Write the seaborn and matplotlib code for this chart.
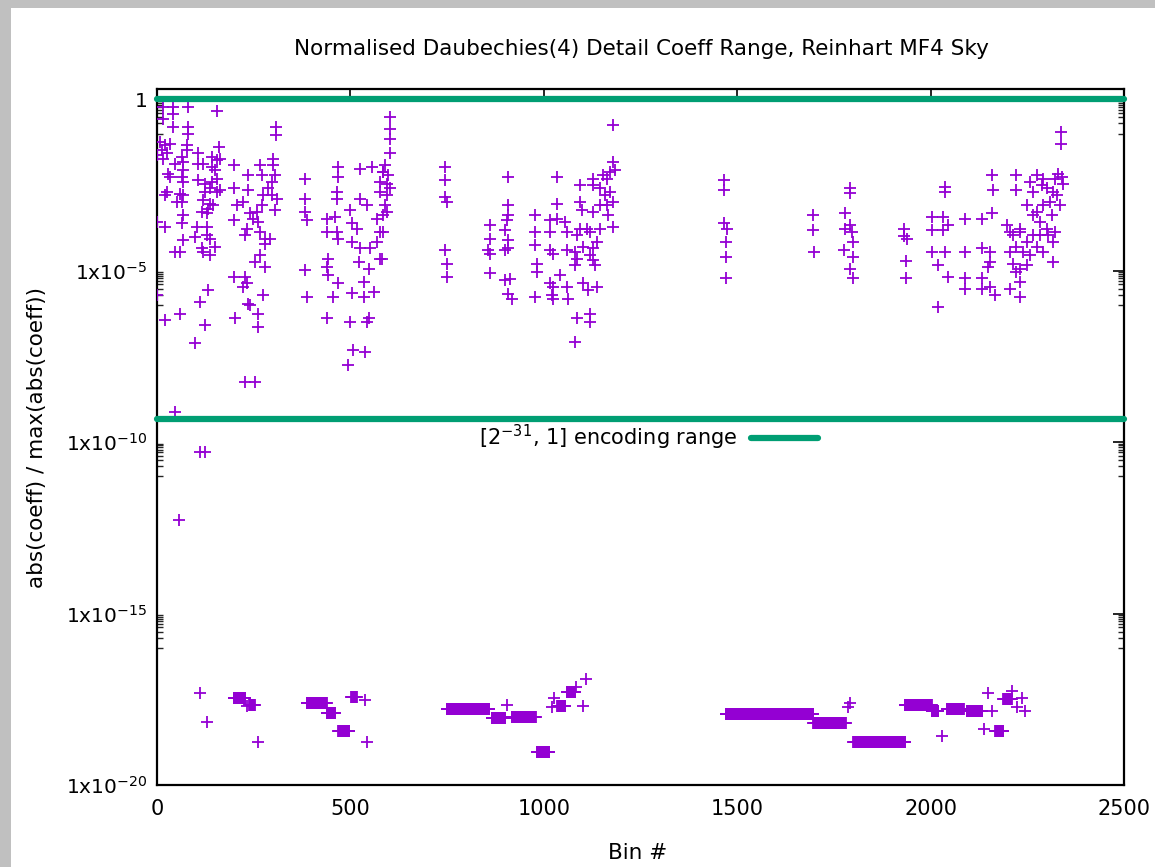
import numpy as np
import pandas as pd
import matplotlib
matplotlib.use("Agg")
import matplotlib.pyplot as plt
from matplotlib.patches import Rectangle
from matplotlib.ticker import FixedLocator, NullFormatter
import seaborn as sns

# ---------------- data (bin number, log10 of normalised |coeff|) ----------------
bins_top = [
    16, 41, 81, 154, 16, 41, 41, 81, 81, 308, 308, 8, 21, 34, 12, 25, 16, 0, 77, 77,
    64, 107, 159, 141, 154, 163, 47, 68, 68, 107, 120, 141, 150, 29, 34, 64, 68, 107, 124, 141,
    154, 25, 21, 60, 68, 124, 137, 154, 163, 51, 64, 120, 137, 133, 146, 68, 116, 129, 0, 21,
    64, 103, 129, 68, 98, 129, 137, 47, 60, 116, 120, 137, 150, 0, 21, 60, 111, 133, 124, 98,
    198, 198, 198, 236, 236, 223, 206, 266, 271, 301, 301, 305, 297, 288, 297, 310, 275, 271, 258, 241,
    249, 262, 232, 228, 266, 279, 292, 279, 266, 254, 279, 305, 198, 228, 232, 223, 275, 236, 241, 262,
    262, 202, 228, 254, 383, 383, 383, 387, 383, 387,
    467, 467, 465, 465, 439, 460, 465, 439, 469, 443, 439, 443, 469, 456, 439, 499, 547, 542,
    525, 555, 585, 577, 594, 577, 542, 525, 499, 504, 516, 504, 525, 551, 568, 577, 568, 585,
    577, 521, 547, 534, 504, 534, 560, 508, 538, 495,
    602, 602, 602, 602, 589, 585, 598, 594, 602, 589, 594, 585, 581, 1180,
    745, 745, 745, 749, 745, 749, 749,
    908, 908, 908, 904, 900, 908, 908, 900, 861, 861, 857, 861, 861, 900, 913, 908, 917,
    977, 977, 977, 982, 982, 977, 1033, 1033, 1033, 1016, 1016, 1055, 1059, 1016, 1025, 1059,
    1042, 1016, 1025, 1059, 1020, 1025, 1063,
    1094, 1094, 1098, 1085, 1094, 1081, 1085, 1081, 1102, 1128, 1145, 1163, 1180, 1184, 1171, 1180,
    1163, 1145, 1128, 1167, 1180, 1145, 1120, 1111, 1137, 1128, 1120, 1128, 1132, 1102, 1115, 1137,
    1085, 1120, 1120, 1081, 1128, 1154, 1171, 1158,
    1466, 1466, 1466, 1473, 1471, 1471, 1471, 1695, 1695, 1698,
    1792, 1792, 1779, 1779, 1792, 1796, 1800, 1776, 1800, 1792, 1800,
    1932, 1932, 1938, 1936, 1936,
    2336, 2336, 2037, 2037, 2160, 2162, 2222, 2222, 2003, 2033, 2003, 2033, 2046, 2089, 2132, 2158,
    2003, 2037, 2020, 2046, 2089, 2089, 2089, 2132, 2132, 2132, 2153, 2166, 2153, 2153, 2149, 2020,
    2205, 2231, 2205, 2214, 2222, 2231, 2197, 2214, 2231, 2222, 2248, 2257, 2274, 2291, 2317, 2317,
    2300, 2283, 2266, 2248, 2266, 2257, 2274, 2291, 2300, 2317, 2321, 2330, 2339, 2343, 2326, 2335,
    2313, 2321, 2304, 2283, 2266, 2240, 2248, 2231, 2274, 2291, 2309, 2287, 2231, 2205,
    46, 111, 124, 58,
]
log_top = [
    -0.22, -0.22, -0.22, -0.35, -0.56, -0.42, -0.81, -0.81, -1.00, -0.81, -1.05, -1.24, -1.34, -1.29, -1.49, -1.58, -1.73, -1.63, -1.34, -1.49,
    -1.68, -1.58, -1.39, -1.68, -1.78, -1.73, -1.88, -1.83, -2.07, -1.88, -1.88, -1.97, -2.07, -2.17, -2.26, -2.26, -2.41, -2.36, -2.46, -2.41,
    -2.31, -2.70, -2.80, -2.75, -2.80, -2.70, -2.60, -2.70, -2.65, -2.99, -2.99, -2.94, -3.04, -3.19, -3.09, -3.38, -3.28, -3.33, -3.58, -3.72,
    -3.62, -3.72, -3.72, -4.11, -4.01, -3.97, -4.06, -4.45, -4.45, -4.35, -4.45, -4.55, -4.31, -5.70, -6.44, -6.25, -5.91, -5.57, -6.59, -7.12,
    -1.92, -2.60, -3.53, -2.22, -2.65, -2.99, -3.09, -1.92, -2.22, -1.73, -1.92, -2.22, -2.41, -2.60, -2.80, -2.90, -2.80, -3.09, -3.28, -3.33,
    -3.48, -3.58, -3.77, -3.97, -3.87, -4.06, -4.06, -4.21, -4.55, -4.74, -4.89, -3.24, -5.18, -5.18, -5.37, -5.47, -5.71, -5.96, -6.01, -6.25,
    -6.64, -6.39, -8.24, -8.24, -2.31, -2.90, -3.28, -3.53, -4.99, -5.76,
    -1.97, -2.26, -2.70, -2.90, -3.48, -3.43, -3.87, -3.87, -4.06, -4.65, -4.89, -5.13, -5.37, -5.76, -6.39, -6.49, -6.39, -6.49,
    -2.02, -1.97, -2.12, -2.41, -2.80, -2.70, -3.09, -2.90, -3.24, -3.62, -3.77, -4.16, -4.35, -4.35, -4.16, -3.87, -3.48, -3.38,
    -4.65, -4.74, -4.94, -5.33, -5.66, -5.76, -5.62, -7.32, -7.37, -7.76,
    -0.52, -0.86, -1.15, -1.58, -1.92, -2.12, -2.22, -2.46, -2.60, -3.09, -3.28, -3.87, -4.65, -0.74,
    -1.97, -2.36, -2.85, -2.99, -4.40, -4.79, -5.18,
    -2.26, -3.09, -3.38, -3.53, -3.82, -4.11, -4.35, -4.40, -3.67, -4.06, -4.40, -4.50, -5.08, -5.28, -5.23, -5.67, -5.81,
    -3.38, -3.87, -4.26, -4.79, -5.03, -5.76, -2.26, -3.04, -3.48, -3.53, -3.87, -3.58, -3.87, -4.40, -4.50, -4.40,
    -5.13, -5.37, -5.47, -5.47, -5.71, -5.81, -5.81,
    -2.51, -2.99, -3.24, -3.97, -3.77, -4.45, -4.65, -4.84, -4.31, -2.31, -2.60, -2.31, -1.83, -2.07, -2.70, -2.99,
    -3.09, -3.09, -3.28, -3.38, -3.72, -3.77, -3.87, -3.77, -4.16, -4.35, -4.55, -4.69, -4.84, -5.37, -5.57, -5.47,
    -6.39, -6.25, -6.49, -7.09, -2.51, -2.22, -2.12, -2.80,
    -2.36, -2.65, -3.62, -3.77, -4.16, -4.60, -5.21, -3.38, -3.82, -4.45,
    -2.59, -2.72, -3.33, -3.77, -3.67, -3.87, -4.16, -4.40, -4.60, -4.94, -5.21,
    -3.77, -3.98, -4.08, -4.72, -5.21,
    -0.95, -1.29, -2.56, -2.70, -2.20, -2.65, -2.20, -2.65, -3.43, -3.43, -3.82, -3.82, -3.67, -3.48, -3.48, -3.33,
    -4.45, -4.45, -4.84, -5.18, -4.45, -5.21, -5.52, -4.35, -5.21, -5.52, -5.47, -5.71, -4.45, -4.74, -4.89, -6.05,
    -5.52, -5.76, -4.45, -4.79, -5.03, -5.33, -3.67, -3.97, -3.77, -4.31, -4.16, -4.55, -4.31, -4.45, -4.74, -4.16,
    -3.77, -3.58, -3.38, -3.09, -2.70, -2.41, -2.22, -2.31, -2.60, -2.70, -2.31, -2.17, -2.26, -2.46, -2.80, -3.09,
    -3.38, -3.87, -3.97, -3.97, -3.97, -4.45, -4.84, -4.94, -3.28, -3.09, -2.99, -2.51, -3.87, -3.87,
    -9.13, -10.30, -10.30, -12.27,
]

# isolated tiny coefficients near the floor
bins_low = [111, 128, 232, 262, 538, 544, 904, 1027, 1021, 1083, 1102, 1109, 1792, 1786,
            2029, 2158, 2149, 2139, 2210, 2236, 2223, 2244]
log_low = [-17.33, -18.15, -17.70, -18.74, -17.52, -18.74, -17.67, -17.45, -17.72, -17.15,
           -17.69, -16.90, -17.60, -17.72, -18.58, -17.84, -17.32, -18.38, -17.27, -17.47,
           -17.72, -17.84]

# runs of consecutive bins sharing the same tiny value
run_start = [199, 239, 387, 439, 469, 502, 749, 866, 917, 982, 1035, 1060,
             1471, 1697, 1800, 1934, 2003, 2042, 2093, 2167, 2188]
run_end = [228, 253, 439, 460, 497, 516, 859, 900, 979, 1014, 1055, 1081,
           1697, 1780, 1934, 2003, 2020, 2086, 2134, 2188, 2210]
run_log = [-17.47, -17.67, -17.62, -17.89, -18.43, -17.43, -17.79, -18.06, -18.01, -19.05, -17.69, -17.30,
           -17.94, -18.20, -18.74, -17.67, -17.85, -17.79, -17.84, -18.43, -17.50]

range_x = [0, 2500]
range_hi = [1.0, 1.0]
range_lo = [2.0 ** -31, 2.0 ** -31]

title = "Normalised Daubechies(4) Detail Coeff Range, Reinhart MF4 Sky"
xlabel = "Bin #"
ylabel = "abs(coeff) / max(abs(coeff))"
xticks = [0, 500, 1000, 1500, 2000, 2500]
yticks = [1e-20, 1e-15, 1e-10, 1e-5, 1]
ytick_labels = [r"$\mathregular{1x10^{-20}}$", r"$\mathregular{1x10^{-15}}$",
                r"$\mathregular{1x10^{-10}}$", r"$\mathregular{1x10^{-5}}$", "1"]
legend_label = r"$\mathregular{[2^{-31}}$, 1] encoding range"

# ---------------- assemble ----------------
run_bins, run_vals = [], []
for a, b, v in zip(run_start, run_end, run_log):
    n = np.arange(a, b + 1)
    run_bins.extend(n.tolist())
    run_vals.extend([v] * len(n))

df = pd.DataFrame({
    "bin": list(bins_top) + list(bins_low) + run_bins,
    "val": 10.0 ** np.array(list(log_top) + list(log_low) + run_vals),
})

sns.set_style("white")
plt.rcParams["font.family"] = ["DejaVu Sans"]
plt.rcParams["mathtext.default"] = "regular"
plt.rcParams["text.color"] = "black"

W, H = 1155, 867
fig = plt.figure(figsize=(W / 100, H / 100), dpi=100, facecolor="#c0c0c0")
fig.patches.append(Rectangle((11 / W, 0), 1 - 11 / W, 1 - 8 / H, transform=fig.transFigure,
                             facecolor="white", edgecolor="none", zorder=-10))
ax = fig.add_axes([157 / W, 1 - 785 / H, (1124 - 157) / W, (785 - 89) / H])
ax.set_facecolor("white")

purple = "#9400d3"
green = "#009e73"

sns.scatterplot(data=df, x="bin", y="val", marker="+", s=80, color=purple,
                linewidth=1.3, ax=ax, zorder=3, legend=False)

sns.lineplot(x=range_x, y=range_hi, color=green, linewidth=4.5, ax=ax, zorder=4,
             solid_capstyle="round", clip_on=False)
sns.lineplot(x=range_x, y=range_lo, color=green, linewidth=4.5, ax=ax, zorder=4,
             solid_capstyle="round", clip_on=False, label=legend_label)

ax.set_yscale("log")
ax.set_xlim(0, 2500)
ax.set_ylim(1e-20, 2)
ax.set_xticks(xticks)
ax.set_xticklabels([str(t) for t in xticks])
ax.yaxis.set_major_locator(FixedLocator(yticks))
ax.set_yticklabels(ytick_labels)
minors = [k * 10.0 ** (e - 1) for e in (0, -5, -10, -15) for k in range(1, 10)]
ax.yaxis.set_minor_locator(FixedLocator(minors))
ax.yaxis.set_minor_formatter(NullFormatter())
ax.xaxis.set_minor_locator(FixedLocator([]))

ax.tick_params(axis="both", which="major", direction="in", length=8, width=1.2,
               top=True, right=True, labelsize=14.5, color="black", labelcolor="black")
ax.tick_params(axis="x", which="major", pad=10, labelsize=15)
ax.tick_params(axis="y", which="major", pad=7)
ax.tick_params(axis="y", which="minor", direction="in", length=4, width=1.0,
               left=True, right=True)
for sp in ax.spines.values():
    sp.set_visible(True)
    sp.set_linewidth(1.6)
    sp.set_color("black")

ax.set_xlabel("")
ax.set_ylabel("")
fig.text(641 / W, 1 - 49 / H, title, ha="center", va="center", fontsize=15.5, color="black")
fig.text(638 / W, 1 - 853 / H, xlabel, ha="center", va="center", fontsize=15.5, color="black")
fig.text(37 / W, 1 - 437 / H, ylabel, ha="center", va="center", fontsize=15.5,
         rotation=90, color="black")

leg = ax.legend(loc="center right", bbox_to_anchor=((818 - 157) / 967, 1 - (437 - 89) / 696),
                frameon=False, markerfirst=False, borderpad=0, borderaxespad=0,
                handlelength=3.2, handletextpad=0.65, fontsize=15)
for t in leg.get_texts():
    t.set_color("black")

fig.savefig("out.png", dpi=100, facecolor=fig.get_facecolor())
